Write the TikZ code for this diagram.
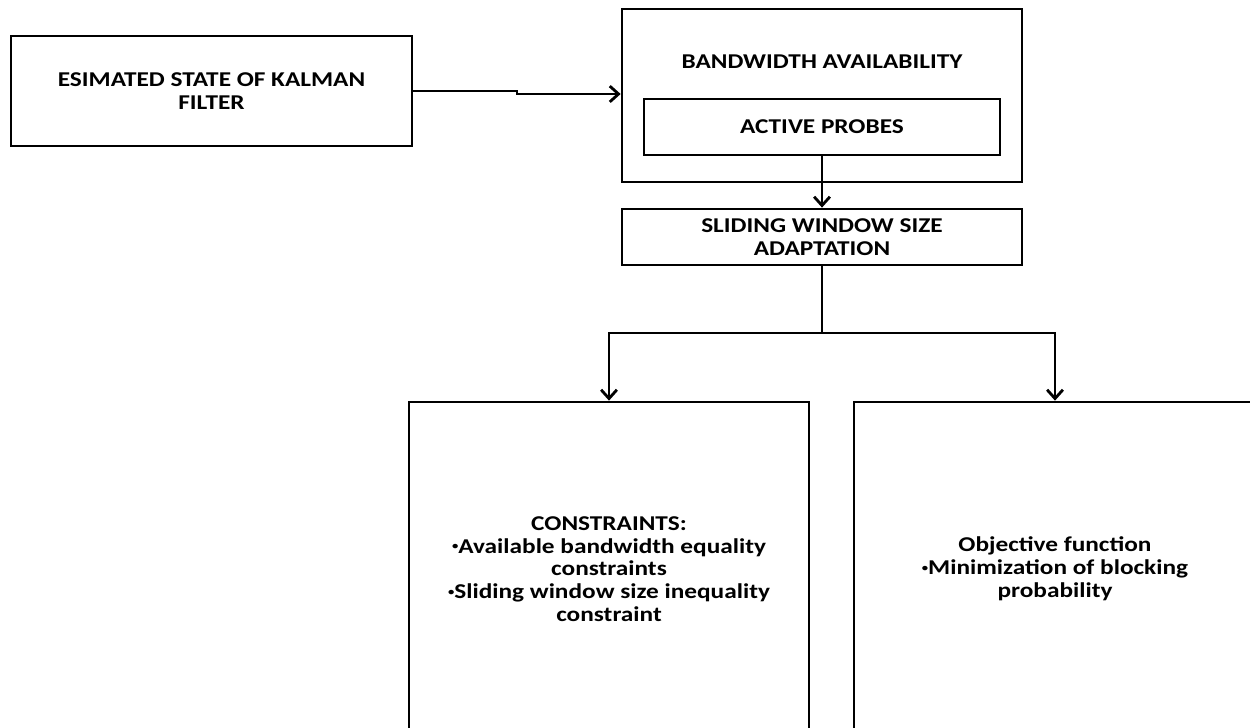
\documentclass[tikz,border=0pt]{standalone}
\usepackage{fontspec}
\setmainfont{Carlito}[FakeStretch=1.2]
\usepackage{tikz}
\usetikzlibrary{positioning, arrows.meta, calc}

\newcommand{\smallbul}{\raisebox{.35ex}{\fontsize{6}{6}\selectfont\textbullet}}

\tikzset{
  block/.style={draw=black, line width=1.6pt, inner sep=0pt, align=center,
                font=\bfseries\fontsize{12}{13}\selectfont},
  plain/.style={inner sep=0pt, align=center, font=\bfseries\fontsize{12}{13}\selectfont},
  link/.style={line width=1.6pt},
  arr/.style={link, -{Straight Barb[length=5pt, width=9pt, line width=1.6pt]}}
}

\begin{document}
\begin{tikzpicture}[x=0.02cm, y=-0.02cm]
    \clip (0,0) rectangle (1250,727);
    % input box
    \node[block, minimum width=8.02cm, minimum height=2.2cm] (kalman) at (211.5,91)
      {ESIMATED STATE OF KALMAN\\FILTER};
    % bandwidth block with inner probe box
    \node[block, minimum width=8cm, minimum height=3.46cm] (bandwidth) at (822,95.5) {};
    \node[plain] (bwtitle) at (822,62) {BANDWIDTH AVAILABILITY};
    \node[block, minimum width=7.12cm, minimum height=1.12cm] (probes) at (822,127) {ACTIVE PROBES};
    \node[block, minimum width=8cm, minimum height=1.12cm] (sliding) at (822,237)
      {SLIDING WINDOW SIZE\\ADAPTATION};
    % the two optimisation parts
    \node[block, minimum width=8cm, minimum height=6.68cm] (constr) at (609,569)
      {CONSTRAINTS:\\\smallbul Available bandwidth equality\\constraints\\\smallbul Sliding window size inequality\\constraint};
    \node[block, minimum width=8.04cm, minimum height=6.68cm] (objective) at (1055,569)
      {Objective function\\\smallbul Minimization of blocking\\probability};

    \coordinate (jog) at (517,94);
    \coordinate (split) at (822,333);

    \draw[arr] (kalman.east) -| (jog) -- (jog -| bandwidth.west);
    \draw[arr] (probes.south) -- (sliding.north);
    \draw[link] (sliding.south) -- (split);
    \draw[arr] (split) -| (constr.north);
    \draw[arr] (split) -| (objective.north);
\end{tikzpicture}
\end{document}
